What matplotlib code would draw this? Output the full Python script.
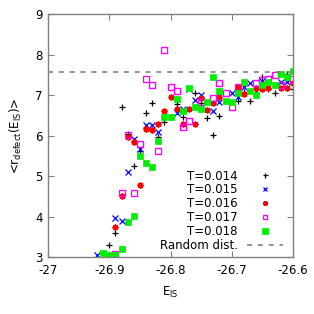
import numpy as np
import matplotlib
matplotlib.use("Agg")
import matplotlib.pyplot as plt

# ---- data ----
x014 = [-26.90, -26.89, -26.88, -26.87, -26.86, -26.85, -26.84, -26.83, -26.82, -26.81,
        -26.79, -26.78, -26.76, -26.75, -26.74, -26.73, -26.72, -26.69, -26.68, -26.67,
        -26.65, -26.64, -26.63, -26.61, -26.60]
y014 = [3.30, 3.60, 6.70, 6.05, 5.26, 5.62, 6.56, 6.81, 5.97, 6.33,
        6.78, 6.45, 7.04, 6.80, 6.43, 6.01, 6.48, 6.86, 7.07, 6.86,
        7.45, 7.16, 7.04, 7.53, 7.14]

x015 = [-26.92, -26.89, -26.88, -26.87, -26.86, -26.85, -26.84, -26.83, -26.82, -26.79,
        -26.78, -26.77, -26.76, -26.75, -26.73, -26.72, -26.70, -26.69, -26.68, -26.67,
        -26.66, -26.65, -26.62, -26.61]
y015 = [3.04, 3.97, 3.90, 5.11, 5.92, 5.67, 6.25, 6.25, 6.09, 6.55,
        6.66, 7.14, 6.89, 6.99, 6.60, 6.84, 7.06, 6.96, 7.20, 7.29,
        7.10, 7.35, 7.33, 7.33]

x016 = [-26.89, -26.88, -26.87, -26.86, -26.85, -26.84, -26.83, -26.82, -26.81, -26.80,
        -26.79, -26.78, -26.77, -26.76, -26.75, -26.74, -26.73, -26.72, -26.69, -26.68,
        -26.66, -26.65, -26.64, -26.62, -26.61, -26.60]
y016 = [3.74, 4.51, 5.97, 5.85, 4.78, 6.15, 6.14, 6.28, 6.61, 6.96,
        6.65, 6.28, 6.65, 6.28, 6.94, 6.63, 6.80, 6.95, 7.19, 7.03,
        7.17, 7.14, 7.17, 7.17, 7.18, 7.30]

x017 = [-26.89, -26.88, -26.87, -26.86, -26.85, -26.84, -26.83, -26.82, -26.81, -26.80,
        -26.79, -26.78, -26.77, -26.75, -26.73, -26.72, -26.71, -26.70, -26.69, -26.66,
        -26.65, -26.64, -26.63, -26.62, -26.60]
y017 = [3.08, 4.59, 6.01, 4.59, 5.79, 7.40, 7.24, 5.62, 8.12, 7.19,
        7.11, 6.22, 6.37, 6.83, 6.94, 7.29, 7.06, 6.71, 7.19, 7.30,
        7.38, 7.40, 7.49, 7.25, 7.40]

x018 = [-26.91, -26.90, -26.89, -26.88, -26.87, -26.86, -26.85, -26.84, -26.83, -26.82,
        -26.81, -26.80, -26.79, -26.78, -26.77, -26.76, -26.75, -26.74, -26.73, -26.72,
        -26.71, -26.70, -26.69, -26.68, -26.67, -26.66, -26.65, -26.64, -26.63, -26.62,
        -26.61, -26.60]
y018 = [3.10, 3.04, 3.05, 3.21, 3.86, 4.02, 5.50, 5.32, 5.22, 5.87,
        6.46, 6.46, 6.91, 6.61, 7.18, 6.71, 6.66, 6.83, 7.45, 7.10,
        6.85, 6.83, 7.06, 7.33, 7.10, 6.99, 7.26, 7.33, 7.26, 7.53,
        7.44, 7.59]

random_dist = 7.56

labels = ["T=0.014", "T=0.015", "T=0.016", "T=0.017", "T=0.018"]
xticks = [-27, -26.9, -26.8, -26.7, -26.6]
xticklabels = ["-27", "-26.9", "-26.8", "-26.7", "-26.6"]
yticks = [3, 4, 5, 6, 7, 8, 9]

# ---- figure ----
fig = plt.figure(figsize=(3.14, 3.14), dpi=100)
ax = fig.add_axes([0.153, 0.1815, 0.78, 0.7735])

ax.plot(x014, y014, linestyle="none", marker="+", color="black", ms=4.5, mew=0.9, label=labels[0])
ax.plot(x015, y015, linestyle="none", marker="x", color="#0000ff", ms=3.8, mew=0.9, label=labels[1])
ax.plot(x016, y016, linestyle="none", marker=(8, 2, 0), color="#ff0000", ms=4.2, mew=1.2, label=labels[2])
ax.plot(x017, y017, linestyle="none", marker="s", color="#ff00ff", mfc="none", ms=4.3, mew=1.0, label=labels[3])
ax.plot(x018, y018, linestyle="none", marker="s", color="#00ee00", mec="#00ee00", ms=4.8, mew=0.5, label=labels[4])
ax.axhline(random_dist, color="#808080", linestyle=(0, (3, 3.5)), lw=1.2, label="Random dist.")

ax.set_xlim(-27, -26.6)
ax.set_ylim(3, 9)
ax.set_xticks(xticks)
ax.set_xticklabels(xticklabels)
ax.set_yticks(yticks)

for s in ax.spines.values():
    s.set_color("#808080")
    s.set_linewidth(1.0)
ax.tick_params(direction="in", length=4, width=0.8, color="#808080", labelsize=8.5,
               top=True, right=True)
ax.tick_params(axis="x", pad=5)
ax.tick_params(axis="y", pad=4)

ax.set_xlabel("E$_{\\rm IS}$", fontsize=8.5, labelpad=6)
ax.set_ylabel("<r$_{\\rm defect}$(E$_{\\rm IS}$)>", fontsize=8.5, labelpad=8)

leg = ax.legend(loc="lower right", frameon=False, markerfirst=False, fontsize=8.5,
                handlelength=3.0, handletextpad=0.8, labelspacing=0.07,
                borderaxespad=0.05, bbox_to_anchor=(0.98, 0.0), markerscale=0.8)
for t in leg.get_texts():
    t.set_ha("right")

fig.savefig("out.png", dpi=100)
